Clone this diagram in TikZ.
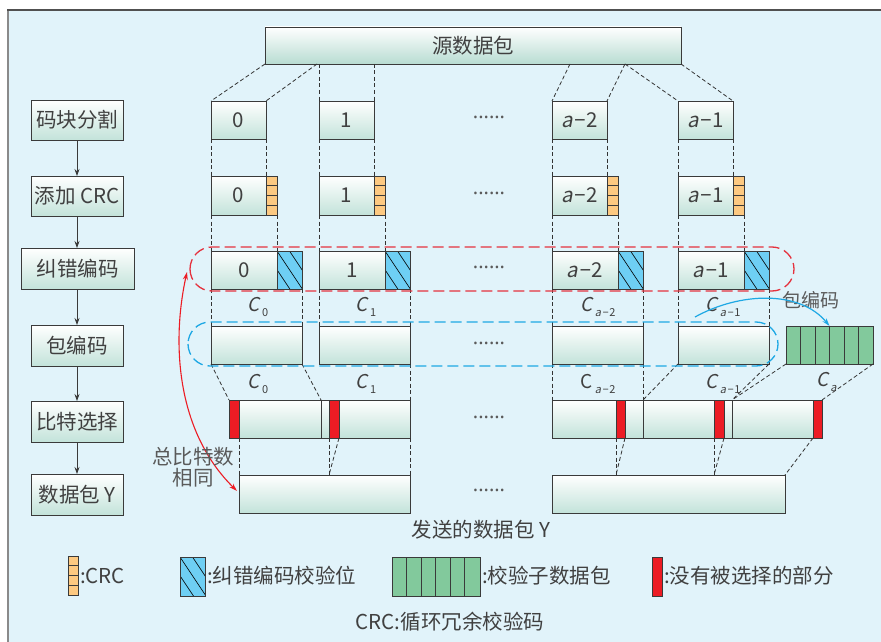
\documentclass[tikz,border=0pt]{standalone}
\usepackage{fontspec}
\setmainfont{Noto Sans CJK SC}
\newfontfamily\slfont{Noto Sans CJK SC}[FakeSlant=0.2]
\newfontfamily\nsans{Noto Sans}
\usetikzlibrary{arrows.meta}
\definecolor{bgc}{HTML}{E1F3FA}
\definecolor{tealc}{HTML}{C3E3DA}
\definecolor{tealS}{HTML}{B8DCD2}
\definecolor{bdc}{HTML}{3A3A3A}
\definecolor{txc}{HTML}{404040}
\definecolor{crcc}{HTML}{FDC981}
\definecolor{hatchc}{HTML}{6ECFF4}
\definecolor{greenc}{HTML}{82C99C}
\definecolor{redc}{HTML}{EC1C24}
\definecolor{rdc}{HTML}{E5323E}
\definecolor{bluec}{HTML}{1EA8E4}
\definecolor{dlc}{HTML}{333333}
\definecolor{framel}{HTML}{8A8A8A}
\definecolor{framet}{HTML}{505050}
\definecolor{greytx}{HTML}{5A5A5A}
\newcommand\myfs{\fontsize{20.5}{24}\selectfont}
\newcommand\mya{{\slfont a}\kern1.5pt}
\newcommand\mymin{{\nsans −}\kern0.5pt}
\newcommand\myC[1]{{\slfont C}\kern2.2pt\raisebox{-0.3em}{\fontsize{11}{12}\selectfont #1}}
\newcommand\myCu[1]{C\kern2.2pt\raisebox{-0.3em}{\fontsize{11}{12}\selectfont #1}}
\tikzset{
 every node/.style={inner sep=0pt, outer sep=0pt},
 blk/.style={draw=bdc, line width=0.9pt, top color=white, bottom color=tealc, text=txc, font=\myfs, anchor=north west},
 lbox/.style={draw=bdc, line width=1pt, top color=white, bottom color=tealc, text=txc, font=\myfs, minimum width=92, minimum height=40},
 crcn/.style={draw=bdc, line width=0.8pt, fill=crcc, anchor=north west, minimum width=11, minimum height=39,
   path picture={\foreach \k in {1,2,3}{\draw[line width=0.7pt, draw=bdc] ([yshift=-\k*9.75pt]path picture bounding box.north west) -- ([yshift=-\k*9.75pt]path picture bounding box.north east);}}},
 hatchn/.style={draw=bdc, line width=0.8pt, fill=hatchc, anchor=north west, minimum width=25, minimum height=38,
   path picture={\foreach \t in {-12.5,0,12.5}{\draw[line width=0.6pt, draw=black] ([xshift=\t pt]path picture bounding box.north west) -- ++(26,39);}}},
 greenn/.style={draw=bdc, line width=0.8pt, fill=greenc, anchor=north west, minimum width=87, minimum height=38,
   path picture={\foreach \k in {1,...,5}{\draw[line width=0.8pt, draw=bdc] ([xshift=\k*14.5pt]path picture bounding box.north west) -- ([xshift=\k*14.5pt]path picture bounding box.south west);}}},
 redn/.style={draw=bdc, line width=0.6pt, fill=redc, anchor=north west, minimum height=38},
 dl/.style={draw=dlc, line width=0.8pt, dash pattern=on 4pt off 2.5pt},
 divl/.style={draw=bdc, line width=0.9pt},
 reddash/.style={draw=rdc, line width=1.3pt, dash pattern=on 11pt off 5pt, rounded corners=22},
 bluedash/.style={draw=bluec, line width=1.3pt, dash pattern=on 11pt off 5pt, rounded corners=22},
 arr/.style={draw=bdc, line width=0.8pt, -{Stealth[length=7pt,width=5pt]}},
 barr/.style={draw=bluec, line width=1.2pt, -{Stealth[length=8pt,width=5pt]}},
 rarr/.style={draw=redc, line width=1.1pt, {Stealth[length=8pt,width=5pt]}-{Stealth[length=8pt,width=5pt]}},
 lab/.style={text=txc, font=\myfs},
 clab/.style={text=txc, font=\fontsize{19}{22}\selectfont},
 dots/.style={text=greytx, font=\fontsize{20}{22}\selectfont\nsans},
}
\begin{document}
\begin{tikzpicture}[x=1pt,y=-1pt]
\useasboundingbox (0,0) rectangle (881,642);
\fill[white] (0,0) rectangle (881,642);
\fill[bgc] (8,10) rectangle (881,642);
\draw[line width=2.2pt, draw=framel] (8,642) -- (8,10);
\draw[line width=1.4pt, draw=framet] (7,10) -- (881,10);

% source
\node[blk, minimum width=416, minimum height=37, bottom color=tealS] (S) at (265,27) {源数据包};

% left column
\node[lbox] (L1) at (77,120) {码块分割};
\node[lbox] (L2) at (77,196) {添加 CRC};
\node[lbox, minimum width=113, minimum height=41] (L3) at (77.5,268.5) {纠错编码};
\node[lbox, minimum height=41] (L4) at (77,345.5) {包编码};
\node[lbox, minimum height=41] (L5) at (77,421.5) {比特选择};
\node[lbox, minimum height=41] (L6) at (77,494.5) {数据包 Y};
\foreach \a/\b in {L1/L2,L2/L3,L3/L4,L4/L5,L5/L6}
  \draw[arr] (\a.south -| 77,0) -- (\b.north -| 77,0);

% row 1
\node[blk, minimum width=55, minimum height=38] (r1a) at (211,101) {0};
\node[blk, minimum width=55, minimum height=38] (r1b) at (319,101) {1};
\node[blk, minimum width=55, minimum height=38] (r1c) at (552,101) {\mya\mymin2};
\node[blk, minimum width=55, minimum height=38] (r1d) at (678,101) {\mya\mymin1};
% row 2
\node[blk, minimum width=55, minimum height=39] (r2a) at (211,176) {0};
\node[blk, minimum width=55, minimum height=39] (r2b) at (319,176) {1};
\node[blk, minimum width=55, minimum height=39] (r2c) at (552,176) {\mya\mymin2};
\node[blk, minimum width=55, minimum height=39] (r2d) at (678,176) {\mya\mymin1};
\node[crcn] (c2a) at (266,176) {};
\node[crcn] (c2b) at (374,176) {};
\node[crcn] (c2c) at (607,176) {};
\node[crcn] (c2d) at (733,176) {};
% row 3
\node[blk, minimum width=66, minimum height=38] (r3a) at (211,251) {0};
\node[blk, minimum width=66, minimum height=38] (r3b) at (319,251) {1};
\node[blk, minimum width=66, minimum height=38] (r3c) at (552,251) {\mya\mymin2};
\node[blk, minimum width=66, minimum height=38] (r3d) at (678,251) {\mya\mymin1};
\node[hatchn] (h3a) at (277,251) {};
\node[hatchn] (h3b) at (385,251) {};
\node[hatchn] (h3c) at (618,251) {};
\node[hatchn] (h3d) at (744,251) {};
% row 4
\node[blk, minimum width=91, minimum height=38] (r4a) at (211,326) {};
\node[blk, minimum width=91, minimum height=38] (r4b) at (319,326) {};
\node[blk, minimum width=91, minimum height=38] (r4c) at (552,326) {};
\node[blk, minimum width=91, minimum height=38] (r4d) at (678,326) {};
\node[greenn] (g) at (786,326) {};
% row 5
\node[blk, minimum width=181, minimum height=38] (p5L) at (229,400) {};
\node[blk, minimum width=270, minimum height=38] (p5R) at (552,400) {};
\coordinate (d1) at (321,400);
\coordinate (d2) at (643,400);
\coordinate (d3) at (732,400);
\foreach \d in {d1,d2,d3} \draw[divl] (\d) -- ++(0,38);
\node[redn, minimum width=10] (rb1) at (229,400) {};
\node[redn, minimum width=10] (rb2) at (329,400) {};
\node[redn, minimum width=9] (rb3) at (616,400) {};
\node[redn, minimum width=10] (rb4) at (714,400) {};
\node[redn, minimum width=9] (rb5) at (813,400) {};
% row 6
\node[blk, minimum width=171, minimum height=38] (p6L) at (239,475) {};
\node[blk, minimum width=233, minimum height=38] (p6R) at (552,475) {};
\coordinate (e1) at (329,475);
\coordinate (e2) at (616,475);
\coordinate (e3) at (714,475);

% source -> row 1
\coordinate (s1) at (317,64);
\coordinate (s2) at (319,64);
\coordinate (s3) at (374,64);
\coordinate (s4) at (570,64);
\coordinate (s5) at (625,64);
\draw[dl] (S.south west) -- (r1a.north west);
\draw[dl] (s1) -- (r1a.north east);
\draw[dl] (s2) -- (r1b.north west);
\draw[dl] (s3) -- (r1b.north east);
\draw[dl] (s4) -- (r1c.north west);
\draw[dl] (s5) -- (r1c.north east);
\draw[dl] (s5) -- (r1d.north west);
\draw[dl] (S.south east) -- (r1d.north east);
\foreach \i in {a,b,c,d}{
  \draw[dl] (r1\i.south west) -- (r2\i.north west);
  \draw[dl] (r1\i.south east) -- (r2\i.north east);
  \draw[dl] (r2\i.south west) -- (r3\i.north west);
  \draw[dl] (c2\i.south east) -- (r3\i.north east);
  \draw[dl] (r3\i.south west) -- (r4\i.north west);
  \draw[dl] (h3\i.south east) -- (r4\i.north east);
}
% row 4 -> row 5
\draw[dl] (r4a.south west) -- (p5L.north west);
\draw[dl] (r4a.south east) -- (d1);
\draw[dl] (r4b.south east) -- (p5L.north east);
\draw[dl] (r4c.south west) -- (p5R.north west);
\draw[dl] (r4c.south east) -- (d2);
\draw[dl] (r4d.south west) -- (d2);
\draw[dl] (r4d.south east) -- (d3);
\draw[dl] (g.south west) -- (d3);
\draw[dl] (g.south east) -- (rb5.north east);
% row 5 -> row 6
\draw[dl] (rb1.south east) -- (p6L.north west);
\draw[dl] (rb2.south west) -- (e1);
\draw[dl] (rb2.south east) -- (e1);
\draw[dl] (p5L.south east) -- (p6L.north east);
\draw[dl] (rb3.south west) -- (e2);
\draw[dl] (rb3.south east) -- (e2);
\draw[dl] (rb4.south west) -- (e3);
\draw[dl] (rb4.south east) -- (e3);
\draw[dl] (rb5.south west) -- (p6R.north east);

% grouping outlines
\draw[reddash] (190,247) rectangle (794,291);
\draw[bluedash] (188,322) rectangle (778,366);

% C labels
\node[clab] (k1) at (258,307) {\myC{0}};
\node[clab] (k2) at (366,307) {\myC{1}};
\node[clab] (k3) at (598,307) {\myC{\mya\mymin2}};
\node[clab] (k4) at (723,307) {\myC{\mya\mymin1}};
\node[clab] (k5) at (258,384) {\myC{0}};
\node[clab] (k6) at (366,384) {\myC{1}};
\node[clab] (k7) at (598,384) {\myCu{\mya\mymin2}};
\node[clab] (k8) at (723,384) {\myC{\mya\mymin1}};
\node[clab] (k9) at (827,382) {\myC{\mya}};

% dots
\foreach \y/\n in {120/1,196/2,270/3,346/4,420/5,493/6}
  \node[dots] (dt\n) at (489,\y) {······};

% packet coding arrow
\node[text=greytx, font=\fontsize{19}{22}\selectfont] (pbl) at (811,300) {包编码};
\coordinate (bs) at (695,317);
\draw[barr] (bs) .. controls (740,292) and (800,290) .. (g.north);

% red double arrow
\coordinate (ra) at (187,272);
\coordinate (rz) at (237,491);
\draw[rarr] (ra) .. controls (172,340) and (175,430) .. (rz);
\node[text=greytx, font=\fontsize{20.5}{21}\selectfont, align=center] (tb) at (193,467) {总比特数\\相同};

\node[lab] (snd) at (481,530) {发送的数据包 Y};

% legend
\node[crcn, minimum width=10] (lg1) at (68,556) {};
\node[lab, anchor=west] (lt1) at (80,576) {:CRC};
\node[hatchn, minimum height=39] (lg2) at (180,557) {};
\node[lab, anchor=west] (lt2) at (207,576) {:纠错编码校验位};
\node[greenn, minimum width=88, minimum height=39] (lg3) at (392,557) {};
\node[lab, anchor=west] (lt3) at (482,576) {:校验子数据包};
\node[redn, minimum width=10, minimum height=39] (lg4) at (652,557) {};
\node[lab, anchor=west] (lt4) at (664,576) {:没有被选择的部分};
\node[lab] (lt5) at (450,622) {CRC:循环冗余校验码};
\end{tikzpicture}
\end{document}
